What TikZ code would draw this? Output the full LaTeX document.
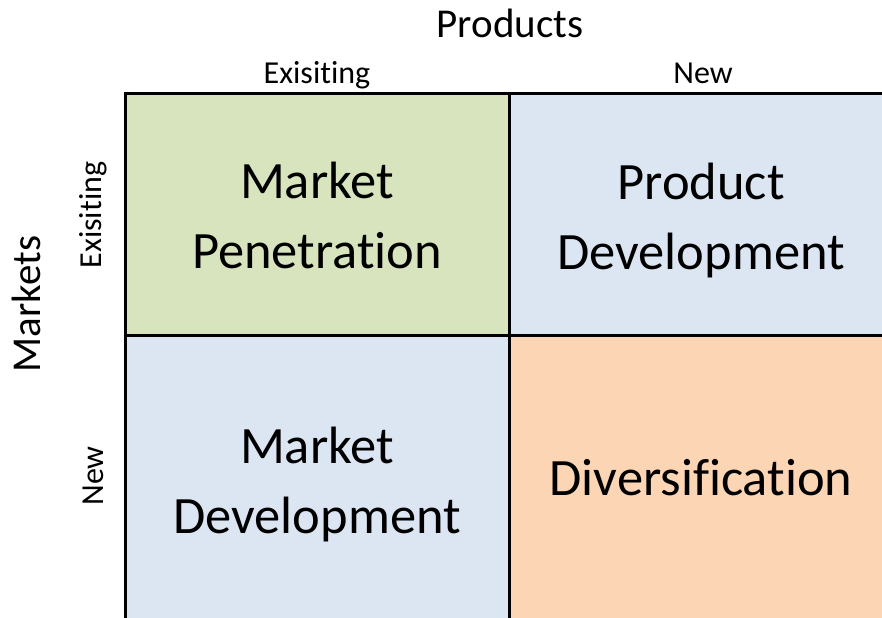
\documentclass[tikz,border=0pt]{standalone}
\usepackage{fontspec}
\setmainfont{Carlito}[Ligatures=CommonOff]
\usepackage{tikz}
\usetikzlibrary{shapes,arrows}
\definecolor{cellgreen}{HTML}{D7E4BD}
\definecolor{cellblue}{HTML}{DCE6F2}
\definecolor{cellorange}{HTML}{FCD5B5}
\tikzstyle{invis} = [draw=none, inner sep=0pt]
\tikzstyle{cell} = [draw=black, line width=1.5pt, rectangle, inner sep=0pt, minimum width=192pt]
\tikzstyle{big} = [invis, align=center, font=\fontsize{26.25}{35}\selectfont]
\tikzstyle{head} = [invis, anchor=base, font=\fontsize{20.5}{24}\selectfont]
\tikzstyle{sub} = [invis, anchor=base, font=\fontsize{16}{19}\selectfont]

\begin{document}
\begin{tikzpicture}[x=0.5pt,y=0.5pt]

    \useasboundingbox (0,0) rectangle (882,-617);

    \node[cell, fill=cellgreen, minimum height=121pt] at (317,-214) (a1) [] {};
    \node[cell, fill=cellblue, minimum height=121pt] at (701,-214) (a2) [] {};
    \node[cell, fill=cellblue, minimum height=142pt] at (317,-477) (a3) [] {};
    \node[cell, fill=cellorange, minimum height=142pt] at (701,-477) (a4) [] {};

    \node[big] at (317,-215) (l1) [] {Market\\Penetration};
    \node[big] at (701,-220) (l2) [] {Product\\Development};
    \node[big] at (317,-484) (l3) [] {Market\\Development};
    \node[big] at (701,-478) (l4) [] {Diversification};

    %=====================

    \node[head] at (510,-37) (p) [] {Products};
    \node[sub] at (317,-83) (p1) [] {Exisiting};
    \node[sub] at (703,-83) (p2) [] {New};

    \node[head, rotate=90] at (40,-304) (m) [] {Markets};
    \node[sub, rotate=90] at (101,-215) (m1) [] {Exisiting};
    \node[sub, rotate=90] at (103,-476) (m2) [] {New};

\end{tikzpicture}
\end{document}
